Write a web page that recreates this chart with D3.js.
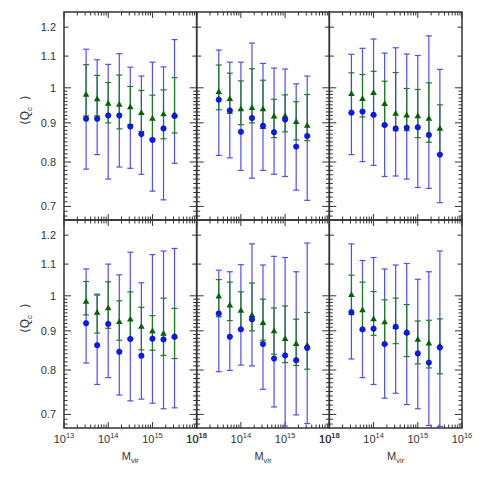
<!DOCTYPE html>
<html>
<head>
<meta charset="utf-8">
<script src="https://cdn.jsdelivr.net/npm/d3@7"></script>
<style>
  body { margin: 0; background: #fff; }
  text { font-family: "Liberation Sans", Arial, sans-serif; fill: #333; }
</style>
</head>
<body>
<div id="chart"></div>
<script>
// halo mass bins (same in every panel)
const mass = [3.16e13, 5.62e13, 1e14, 1.78e14, 3.16e14, 5.62e14, 1e15, 1.78e15, 3.16e15];

// panels: top-left, top-mid, top-right, bottom-left, bottom-mid, bottom-right
const blueMean = [
  [0.911, 0.911, 0.920, 0.920, 0.890, 0.870, 0.855, 0.885, 0.919],
  [0.965, 0.934, 0.876, 0.913, 0.892, 0.875, 0.909, 0.838, 0.865],
  [0.928, 0.931, 0.922, 0.894, 0.885, 0.887, 0.888, 0.868, 0.818],
  [0.921, 0.862, 0.919, 0.845, 0.878, 0.835, 0.879, 0.877, 0.884],
  [0.948, 0.884, 0.904, 0.932, 0.865, 0.828, 0.836, 0.824, 0.855],
  [0.952, 0.904, 0.906, 0.865, 0.911, 0.895, 0.841, 0.818, 0.856]
];
const blueLo = [
  [0.783, 0.818, 0.760, 0.788, 0.785, 0.771, 0.733, 0.714, 0.797],
  [0.816, 0.810, 0.780, 0.762, 0.780, 0.771, 0.766, 0.735, 0.713],
  [0.818, 0.801, 0.792, 0.766, 0.767, 0.760, 0.741, 0.739, 0.708],
  [0.817, 0.766, 0.782, 0.742, 0.729, 0.733, 0.724, 0.712, 0.714],
  [0.796, 0.799, 0.812, 0.810, 0.755, 0.716, 0.676, 0.699, 0.681],
  [0.827, 0.782, 0.766, 0.735, 0.746, 0.721, 0.712, 0.677, 0.675]
];
const blueHi = [
  [1.123, 1.088, 1.073, 1.108, 1.064, 1.036, 1.080, 1.065, 1.156],
  [1.120, 1.080, 1.080, 1.144, 1.076, 1.061, 1.058, 1.012, 1.036],
  [1.106, 1.126, 1.158, 1.110, 1.128, 1.107, 1.102, 1.169, 1.057],
  [1.084, 1.002, 1.100, 1.065, 1.140, 1.040, 1.132, 1.144, 1.153],
  [1.080, 1.075, 1.098, 1.169, 1.097, 1.126, 1.122, 1.075, 1.172],
  [1.169, 1.112, 1.122, 1.084, 1.097, 1.102, 1.051, 1.075, 1.144]
];
const greenMean = [
  [0.979, 0.966, 0.953, 0.950, 0.943, 0.927, 0.911, 0.923, 0.922],
  [0.987, 0.967, 0.937, 0.941, 0.937, 0.917, 0.918, 0.902, 0.892],
  [0.981, 0.967, 0.984, 0.952, 0.925, 0.920, 0.918, 0.911, 0.884],
  [0.982, 0.950, 0.963, 0.924, 0.931, 0.911, 0.899, 0.892, 0.885],
  [0.998, 0.971, 0.956, 0.943, 0.921, 0.899, 0.878, 0.865, 0.861],
  [1.002, 0.957, 0.932, 0.923, 0.911, 0.896, 0.876, 0.866, 0.860]
];
const greenLo = [
  [0.919, 0.919, 0.900, 0.884, 0.895, 0.877, 0.858, 0.858, 0.873],
  [0.936, 0.926, 0.895, 0.900, 0.885, 0.861, 0.876, 0.855, 0.853],
  [0.927, 0.916, 0.920, 0.893, 0.879, 0.879, 0.861, 0.849, 0.819],
  [0.944, 0.894, 0.907, 0.875, 0.879, 0.850, 0.849, 0.836, 0.828],
  [0.939, 0.928, 0.904, 0.900, 0.875, 0.839, 0.818, 0.811, 0.802],
  [0.945, 0.901, 0.888, 0.864, 0.866, 0.833, 0.815, 0.805, 0.791]
];
const greenHi = [
  [1.072, 1.038, 1.016, 1.039, 1.004, 0.992, 0.978, 0.994, 1.031],
  [1.071, 1.045, 1.021, 1.059, 1.023, 0.966, 0.979, 0.959, 0.980],
  [1.046, 1.041, 1.051, 1.020, 1.047, 0.998, 0.995, 1.015, 0.950],
  [1.044, 1.005, 1.043, 0.985, 1.012, 0.966, 0.942, 0.993, 0.963],
  [1.050, 1.042, 1.012, 1.039, 0.990, 0.964, 0.970, 0.932, 0.951],
  [1.064, 1.042, 1.013, 0.988, 0.993, 0.974, 0.927, 0.929, 0.933]
];

const yTicks = [0.7, 0.8, 0.9, 1, 1.1, 1.2];
const yMinor = [0.68, 0.69, 0.71, 0.72, 0.73, 0.74, 0.75, 0.76, 0.77, 0.78, 0.79,
  0.81, 0.82, 0.83, 0.84, 0.85, 0.86, 0.87, 0.88, 0.89,
  0.91, 0.92, 0.93, 0.94, 0.95, 0.96, 0.97, 0.98, 0.99];
const xMajor = [13, 14, 15, 16];
const xMinor = [2, 3, 4, 5, 6, 7, 8, 9];

const marginLeft = 64, marginTop = 12;
const pw = 132.67, ph = 208;

const svg = d3.select("#chart").append("svg")
  .attr("width", 480)
  .attr("height", 480);

const x = d3.scaleLog().domain([1e13, 1e16]).range([0, pw]);
const y = d3.scaleLog().domain([0.672, 1.256]).range([ph, 0]);

const minorX = [];
xMajor.slice(0, 3).forEach(e => xMinor.forEach(m => minorX.push(m * Math.pow(10, e))));

const drawPanel = (i) => {
  const col = i % 3, row = Math.floor(i / 3);
  const g = svg.append("g")
    .attr("transform", `translate(${marginLeft + col * pw},${marginTop + row * ph})`);

  // ticks, inward on all four sides
  const tk = g.append("g").attr("stroke", "#333").attr("stroke-width", 1);
  yTicks.forEach(v => {
    const len = v <= 1 ? 7 : 4.5;
    tk.append("line").attr("x1", 0).attr("x2", len).attr("y1", y(v)).attr("y2", y(v));
    tk.append("line").attr("x1", pw).attr("x2", pw - len).attr("y1", y(v)).attr("y2", y(v));
  });
  yMinor.forEach(v => {
    tk.append("line").attr("x1", 0).attr("x2", 3.5).attr("y1", y(v)).attr("y2", y(v));
    tk.append("line").attr("x1", pw).attr("x2", pw - 3.5).attr("y1", y(v)).attr("y2", y(v));
  });
  xMajor.forEach(e => {
    const xv = x(Math.pow(10, e));
    tk.append("line").attr("x1", xv).attr("x2", xv).attr("y1", ph).attr("y2", ph - 6);
    tk.append("line").attr("x1", xv).attr("x2", xv).attr("y1", 0).attr("y2", 6);
  });
  minorX.forEach(v => {
    tk.append("line").attr("x1", x(v)).attr("x2", x(v)).attr("y1", ph).attr("y2", ph - 3.5);
    tk.append("line").attr("x1", x(v)).attr("x2", x(v)).attr("y1", 0).attr("y2", 3.5);
  });

  g.append("rect")
    .attr("width", pw).attr("height", ph)
    .attr("fill", "none").attr("stroke", "#333").attr("stroke-width", 1.5);

  const errBars = (lo, hi, color, width) => {
    const eb = g.append("g").attr("stroke", color).attr("stroke-width", width);
    mass.forEach((m, j) => {
      const cx = x(m);
      eb.append("line").attr("x1", cx).attr("x2", cx).attr("y1", y(lo[j])).attr("y2", y(hi[j]));
      eb.append("line").attr("x1", cx - 3).attr("x2", cx + 3).attr("y1", y(lo[j])).attr("y2", y(lo[j]));
      eb.append("line").attr("x1", cx - 3).attr("x2", cx + 3).attr("y1", y(hi[j])).attr("y2", y(hi[j]));
    });
  };
  errBars(blueLo[i], blueHi[i], "#4e4eff", 1.2);
  errBars(greenLo[i], greenHi[i], "#237a23", 1.2);

  g.selectAll(".tri").data(mass).enter().append("path")
    .attr("d", d3.symbol().type(d3.symbolTriangle).size(19))
    .attr("transform", (m, j) => `translate(${x(m)},${y(greenMean[i][j])})`)
    .attr("fill", "#006400");

  g.selectAll(".dot").data(mass).enter().append("circle")
    .attr("cx", m => x(m))
    .attr("cy", (m, j) => y(blueMean[i][j]))
    .attr("r", 2.7)
    .attr("fill", "#0a1aff")
    .attr("stroke", "#0000aa")
    .attr("stroke-width", 0.6);

  if (col === 0) {
    yTicks.forEach(v => {
      g.append("text")
        .attr("x", -8).attr("y", y(v) + 4)
        .attr("text-anchor", "end")
        .style("font-size", "11px")
        .text(v);
    });
    const yl = g.append("text")
      .attr("transform", `translate(-35,${ph / 2 - 6}) rotate(-90)`)
      .attr("text-anchor", "middle")
      .style("font-size", "12px");
    yl.append("tspan").text("\u27E8Q");
    yl.append("tspan").attr("dy", 3).style("font-size", "8px").text("c");
    yl.append("tspan").attr("dy", -3).text("\u2009\u2009\u2009\u27E9");
  }

  if (row === 1) {
    xMajor.forEach(e => {
      const t = g.append("text")
        .attr("x", x(Math.pow(10, e))).attr("y", ph + 15)
        .attr("text-anchor", "middle")
        .style("font-size", "11px");
      t.append("tspan").text("10");
      t.append("tspan").attr("dy", -5).style("font-size", "7.5px").text(e);
    });
    const xl = g.append("text")
      .attr("x", pw / 2).attr("y", ph + 32)
      .attr("text-anchor", "middle")
      .style("font-size", "11px");
    xl.append("tspan").text("M");
    xl.append("tspan").attr("dy", 3).style("font-size", "7.5px").text("vir");
  }
};

d3.range(6).forEach(drawPanel);
</script>
</body>
</html>
